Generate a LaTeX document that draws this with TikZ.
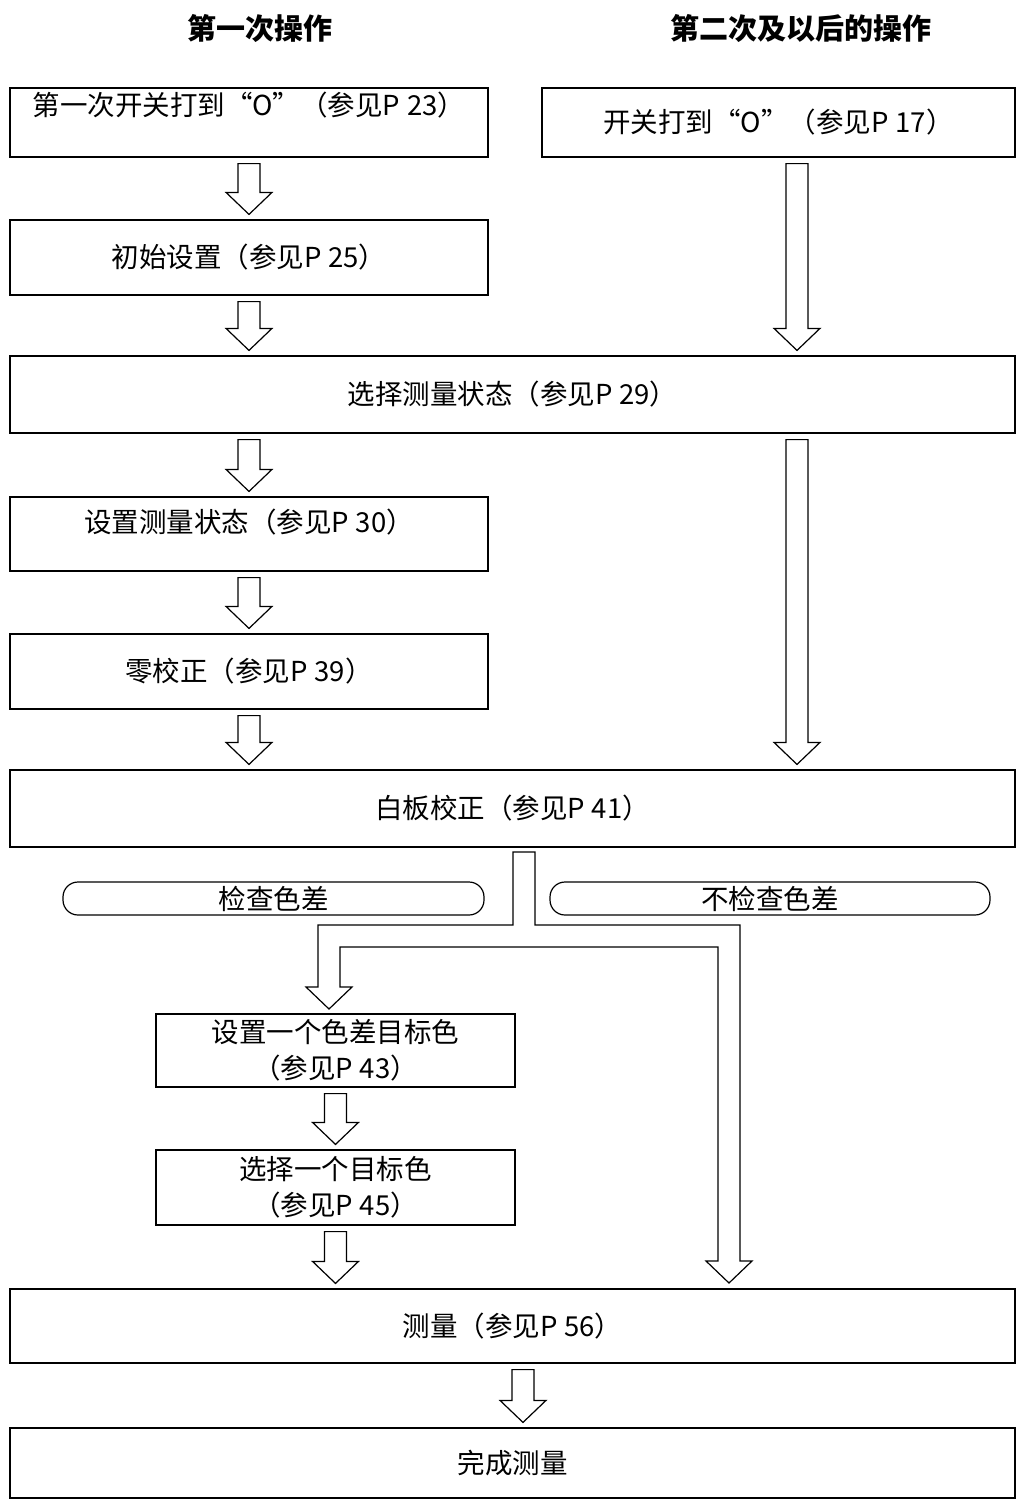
\documentclass[tikz,border=0pt]{standalone}
\usepackage{fontspec}
\setmainfont{Noto Sans CJK SC}
\usetikzlibrary{calc}
\newcommand\pg[1]{P\kern7pt#1}
\tikzset{
  box/.style={draw, line width=1.2pt, rectangle, inner sep=0pt, align=center,
    font=\fontsize{27.5}{36}\selectfont},
  txt/.style={inner sep=0pt, align=center, font=\fontsize{27.5}{36}\selectfont},
  pill/.style={draw, line width=1.2pt, rounded corners=15pt, inner sep=0pt,
    minimum height=33pt, font=\fontsize{27.5}{30}\selectfont},
  heading/.style={inner sep=0pt, font=\fontsize{29}{34}\selectfont\bfseries},
  barrow/.style={draw, line width=1.2pt, fill=white, line join=miter}
}
\newcommand\bdown[3]{\draw[barrow] let \p3=(#1), \p1=(#2.south), \p2=(#3.north) in
  (\x3-11pt,\y1-6pt) -- (\x3+11pt,\y1-6pt) -- (\x3+11pt,\y2+27pt) -- (\x3+23pt,\y2+27pt)
  -- (\x3,\y2+5pt) -- (\x3-23pt,\y2+27pt) -- (\x3-11pt,\y2+27pt) -- cycle;}
\begin{document}
\begin{tikzpicture}[x=1pt,y=-1pt]
\useasboundingbox (0,0) rectangle (1016,1500);
% headings
\node[heading] (h1) at (260,28) {第一次操作};
\node[heading] (h2) at (801,28) {第二次及以后的操作};
% boxes
\node[box, minimum width=478pt, minimum height=69pt] (b1) at (249,122.5) {};
\node[txt] (t1) at (249,105) {第一次开关打到“O”（参见\pg{23}）};
\node[box, minimum width=473pt, minimum height=69pt] (b2) at (778.5,122.5) {开关打到“O”（参见\pg{17}）};
\node[box, minimum width=478pt, minimum height=75pt] (b3) at (249,257.5) {初始设置（参见\pg{25}）};
\node[box, minimum width=1005pt, minimum height=77pt] (b4) at (512.5,394.5) {选择测量状态（参见\pg{29}）};
\node[box, minimum width=478pt, minimum height=74pt] (b5) at (249,534) {};
\node[txt] (t5) at (249,522) {设置测量状态（参见\pg{30}）};
\node[box, minimum width=478pt, minimum height=75pt] (b6) at (249,671.5) {零校正（参见\pg{39}）};
\node[box, minimum width=1005pt, minimum height=77pt] (b7) at (512.5,808.5) {白板校正（参见\pg{41}）};
\node[pill, minimum width=421pt] (p1) at (273.5,898.5) {检查色差};
\node[pill, minimum width=440pt] (p2) at (770,898.5) {不检查色差};
\node[box, minimum width=359pt, minimum height=73pt] (b8) at (335.5,1050.5) {设置一个色差目标色\\（参见\pg{43}）};
\node[box, minimum width=359pt, minimum height=75pt] (b9) at (335.5,1187.5) {选择一个目标色\\（参见\pg{45}）};
\node[box, minimum width=1005pt, minimum height=74pt] (b10) at (512.5,1326) {测量（参见\pg{56}）};
\node[box, minimum width=1005pt, minimum height=70pt] (b11) at (512.5,1463) {完成测量};
% column coordinates for the right-hand arrows
\coordinate (rc) at (797,0);
\coordinate (fc) at (523,0);
% block arrows
\bdown{b1.south}{b1}{b3}
\bdown{b3.south}{b3}{b4}
\bdown{b4.south -| b5.south}{b4}{b5}
\bdown{b5.south}{b5}{b6}
\bdown{b6.south}{b6}{b7}
\bdown{rc}{b2}{b4}
\bdown{rc}{b4}{b7}
\bdown{b8.south}{b8}{b9}
\bdown{b9.south}{b9}{b10}
\bdown{fc}{b10}{b11}
% split arrow below b7
\draw[barrow] (513,852) -- (535,852) -- (535,925) -- (740,925) -- (740,1261)
  -- (752,1261) -- (729,1283) -- (706,1261) -- (718,1261) -- (718,947)
  -- (340,947) -- (340,987) -- (352,987) -- (329,1009) -- (306,987)
  -- (318,987) -- (318,925) -- (513,925) -- cycle;
\end{tikzpicture}
\end{document}
